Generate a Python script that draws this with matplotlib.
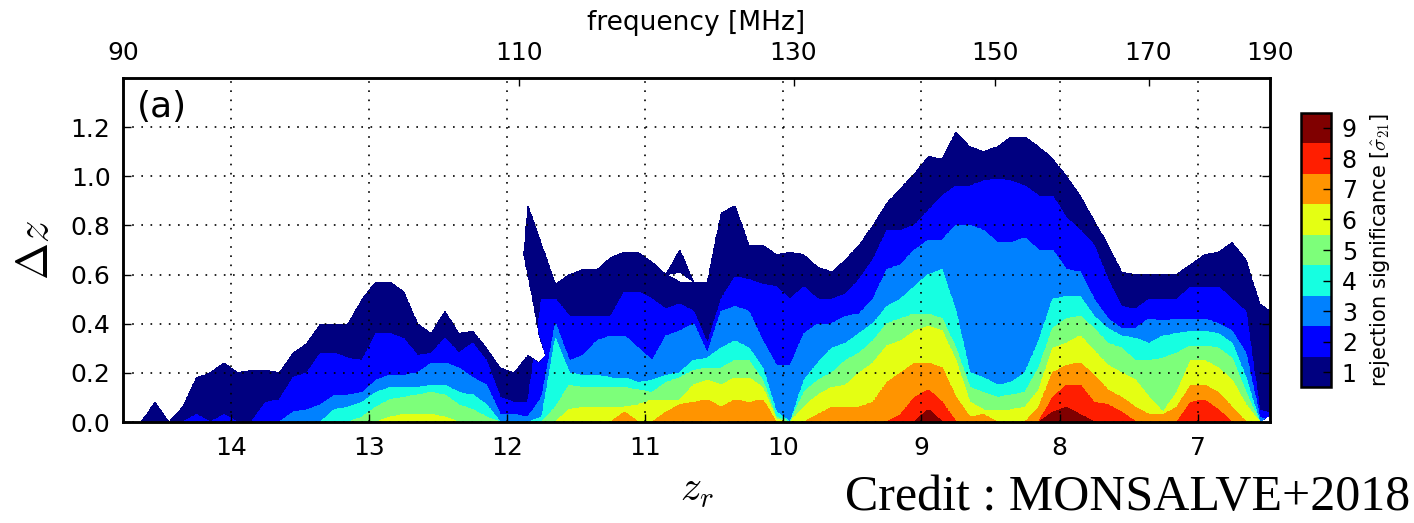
import numpy as np
import matplotlib
matplotlib.use("Agg")
import matplotlib.pyplot as plt

# column centres in z_r (left to right on the reversed axis)
z_r = np.round(np.arange(14.75, 6.40, -0.1), 2)

# top of the region where significance >= k, for each z_r column (Delta z units)
h1 = [0, 0, .08, 0, .06, .18, .20, .24, .20, .21,
      .21, .20, .28, .32, .40, .40, .40, .50, .57, .57,
      .53, .40, .36, .45, .36, .37, .30, .22, .20, .88,
      .72, .56, .60, .62, .62, .67, .69, .69, .65, .60,
      .70, .57, .57, .85, .88, .72, .72, .68, .69, .68,
      .63, .61, .66, .72, .80, .89, .95, 1.01, 1.08, 1.07,
      1.18, 1.12, 1.10, 1.12, 1.16, 1.16, 1.12, 1.07, 1.00, .92,
      .82, .72, .61, .60, .60, .60, .60, .64, .68, .69,
      .73, .66, .48, .44]
h2 = [0, 0, 0, 0, 0, .03, 0, .03, 0, 0,
      .08, .09, .18, .20, .28, .28, .26, .25, .36, .36,
      .34, .27, .28, .34, .28, .32, .25, .10, .08, .08,
      .50, .50, .43, .43, .43, .43, .53, .53, .50, .46,
      .48, .45, .32, .50, .59, .58, .56, .55, .50, .55,
      .50, .50, .52, .58, .66, .78, .78, .80, .86, .92,
      .96, .96, .98, .99, .98, .96, .92, .92, .83, .78,
      .72, .58, .47, .46, .50, .50, .50, .55, .55, .55,
      .50, .45, .05, .03]
h3 = [0] * 12 + [.04, .05, .07, .11, .11, .12, .17, .19,
      .19, .20, .24, .24, .22, .18, .15, .03, .03, .02,
      .10, .40, .25, .27, .33, .35, .35, .30, .25, .35,
      .37, .40, .28, .45, .47, .45, .33, .23, .23, .36,
      .40, .40, .43, .44, .50, .62, .64, .70, .74, .74,
      .80, .80, .78, .73, .73, .75, .70, .70, .62, .61,
      .50, .42, .38, .38, .42, .41, .42, .42, .42, .40,
      .37, .28, .02, 0]
h4 = [0] * 15 + [.05, .06, .08, .12, .14,
      .14, .14, .15, .15, .12, .11, .07, 0, 0, 0,
      .02, .34, .20, .19, .19, .18, .18, .16, .17, .19,
      .20, .25, .26, .30, .33, .30, .22, .04, 0, .17,
      .24, .30, .32, .36, .40, .47, .50, .55, .60, .62,
      .45, .20, .18, .15, .16, .20, .33, .50, .51, .51,
      .43, .38, .35, .34, .32, .35, .36, .37, .37, .36,
      .32, .18, 0, 0]
h5 = [0] * 17 + [.02, .06, .09,
      .10, .11, .12, .11, .07, .05, .02, 0, 0, 0,
      0, .06, .15, .14, .14, .14, .14, .13, .12, .16,
      .18, .21, .22, .22, .25, .25, .17, .02, 0, .12,
      .17, .20, .25, .28, .33, .40, .42, .44, .44, .42,
      .30, .14, .12, .10, .11, .12, .22, .38, .42, .43,
      .38, .32, .30, .25, .25, .26, .28, .31, .31, .30,
      .26, .12, 0, 0]
h6 = [0] * 19 + [.02,
      .03, .03, .03, .02, 0, 0, 0, 0, 0, 0,
      0, 0, .05, .06, .06, .06, .06, .07, .09, .09,
      .09, .15, .17, .15, .18, .18, .14, .01, 0, .06,
      .11, .14, .15, .20, .24, .31, .33, .37, .39, .37,
      .25, .08, .05, .05, .05, .06, .13, .30, .32, .35,
      .29, .23, .20, .17, .10, .04, .12, .25, .25, .22,
      .17, .07, 0, 0]
h7 = [0] * 36 + [.04, 0, 0, .04,
      .07, .08, .09, .06, .09, .08, .09, 0, 0, 0,
      .03, .06, .06, .06, .08, .16, .20, .24, .24, .22,
      .10, .02, .03, 0, 0, 0, .06, .20, .23, .24,
      .19, .13, .10, .06, .03, .03, .06, .15, .15, .12,
      .06, 0, 0, 0]
h8 = [0] * 56 + [.03, .10, .13, .08,
      0, 0, 0, 0, 0, 0, 0, .10, .15, .15,
      .08, .07, .04, 0, 0, 0, 0, .08, .09, .05,
      0, 0, 0, 0]
h9 = [0] * 58 + [.05, 0,
      0, 0, 0, 0, 0, 0, 0, .04, .06, .03] + [0] * 14

# white holes inside the lowest level: per hole, z_r points with Delta z from / to
holes = [
    ([11.95, 11.85, 11.77, 11.72], [.20, .27, .24, .27], [.88, .60, .36, .27]),
    ([10.85, 10.75, 10.65], [.60, .57, .57], [.60, .61, .57]),
    ([6.55, 6.45], [0.0, 0.0], [0.0, .04]),
]

freq_ticks = [90, 110, 130, 150, 170, 190]
z_ticks = [14, 13, 12, 11, 10, 9, 8, 7]
dz_ticks = [0.0, 0.2, 0.4, 0.6, 0.8, 1.0, 1.2]
sig_levels = [1, 2, 3, 4, 5, 6, 7, 8, 9]


def f2z(f):
    return 1420.4 / np.asarray(f, dtype=float) - 1


# significance table on a fine grid, level edges joined between columns
H = np.array([h1, h2, h3, h4, h5, h6, h7, h8, h9])
dz = np.linspace(0, 1.4, 561)
zf = np.linspace(z_r[-1], z_r[0], 1671)
Hf = np.array([np.interp(zf, z_r[::-1], row[::-1]) for row in H])
sig = (dz[:, None, None] < Hf[None, :, :]).sum(axis=1).astype(float)
for hz, hlo, hhi in holes:
    inside = (zf >= min(hz)) & (zf <= max(hz))
    lo = np.interp(zf, hz[::-1], hlo[::-1])
    hi = np.interp(zf, hz[::-1], hhi[::-1])
    hole = (dz[:, None] >= lo[None, :]) & (dz[:, None] < hi[None, :]) & inside[None, :]
    sig[hole] = 0

plt.rcParams.update({
    "font.family": "DejaVu Sans",
    "font.size": 18,
    "mathtext.fontset": "cm",
    "xtick.direction": "in",
    "ytick.direction": "in",
})

fig = plt.figure(figsize=(14.14, 5.23), dpi=100)
ax = fig.add_axes([123 / 1414, 1 - 422 / 523, 1147 / 1414, 344 / 523])

cols = [plt.cm.jet(v) for v in np.linspace(0, 1, 9)]
cs = ax.contourf(zf, dz, sig, levels=np.arange(0.5, 10, 1), colors=cols)

ax.set_xlim(f2z(90), f2z(190))
ax.set_ylim(0, 1.4)
ax.set_xticks(z_ticks)
ax.set_yticks(dz_ticks)
ax.yaxis.set_major_formatter("{x:.1f}")
ax.tick_params(axis="x", bottom=True, top=False, length=6, width=1, pad=10)
ax.tick_params(axis="y", left=True, right=True, length=6, width=1, pad=9)
ax.grid(True, color="k", linestyle=(0, (1, 4.5)), linewidth=1.2)
for s in ax.spines.values():
    s.set_linewidth(1.8)

ax.set_xlabel("$z_r$", fontsize=30, labelpad=6)
ax.set_ylabel(r"$\Delta z$", fontsize=32, labelpad=10)
ax.text(0.012, 0.965, "(a)", transform=ax.transAxes, fontsize=26, va="top")

ax2 = ax.twiny()
ax2.set_xlim(ax.get_xlim())
ax2.set_xticks(f2z(freq_ticks))
ax2.set_xticklabels([str(f) for f in freq_ticks])
ax2.tick_params(axis="x", length=6, width=1, pad=9)
ax2.set_xlabel("frequency [MHz]", fontsize=19, labelpad=8)
for s in ax2.spines.values():
    s.set_linewidth(1.8)

cax = fig.add_axes([1300.7 / 1414, 1 - 387.3 / 523, 30 / 1414, 274.6 / 523])
cb = fig.colorbar(cs, cax=cax, ticks=sig_levels)
cb.ax.tick_params(direction="in", length=6, width=1, color="k", pad=8, labelsize=17)
cb.outline.set_linewidth(1.8)
cb.set_label(r"rejection significance [$\hat{\sigma}_{21}$]", fontsize=15, labelpad=8)

fig.text(1410 / 1414, 2 / 523, "Credit : MONSALVE+2018", fontsize=36,
         family="Liberation Serif", ha="right", va="bottom")

fig.savefig("out.png", dpi=100)
